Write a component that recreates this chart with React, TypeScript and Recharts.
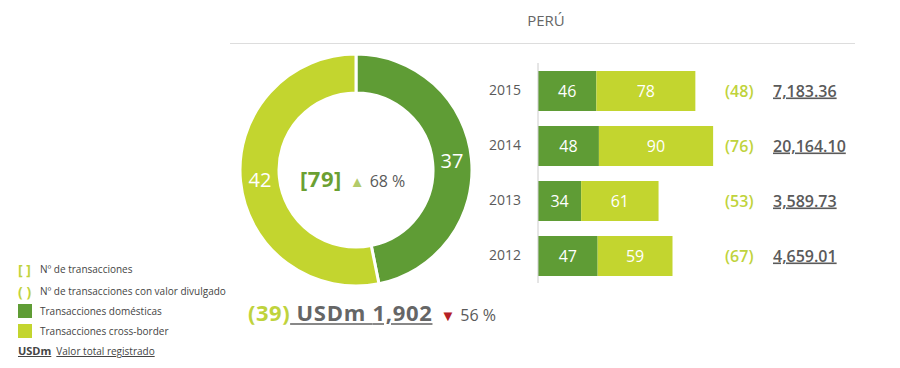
import * as React from "react"
import { PieChart, Pie, Cell, BarChart, Bar, XAxis, YAxis, LabelList } from "recharts"

const DARK = "#5f9c35"
const LIGHT = "#c3d52f"
const GREEN_TEXT = "#6ba032"
const LIGHT_TEXT = "#bfd33c"
const GRAY = "#5a5a5a"
const FONT = "'Open Sans', sans-serif"

// donut: Perú 2015
const donutNames = ["Transacciones domésticas", "Transacciones cross-border"]
const donutValues = [37, 42]
const totalDeals = 79
const dealsChange = 68
const disclosedDeals = 39
const totalValue = "1,902"
const valueChange = 56

// bars by year
const years = ["2015", "2014", "2013", "2012"]
const domestic = [46, 48, 34, 47]
const crossBorder = [78, 90, 61, 59]
const disclosed = [48, 76, 53, 67]
const yearValues = ["7,183.36", "20,164.10", "3,589.73", "4,659.01"]

const pieData = donutNames.map((name, i) => ({ name, value: donutValues[i] }))
const barData = years.map((year, i) => ({ year, domestic: domestic[i], crossBorder: crossBorder[i] }))

const RADIAN = Math.PI / 180

const PieLabel = (props: any) => {
  const { cx, cy, midAngle, innerRadius, outerRadius, value } = props
  const r = (innerRadius + outerRadius) / 2
  const x = cx + r * Math.cos(-midAngle * RADIAN)
  const y = cy + r * Math.sin(-midAngle * RADIAN)
  return (
    <text x={x} y={y} fill="#fff" fontSize={20} fontFamily={FONT} textAnchor="middle" dominantBaseline="central">
      {value}
    </text>
  )
}

const RightTick = (props: any) => {
  const { x, y, payload } = props
  const i = payload.index
  return (
    <g>
      <text x={x - 5} y={y} dy={6} fill={LIGHT_TEXT} fontSize={16} fontWeight={600} fontFamily={FONT}>
        ({disclosed[i]})
      </text>
      <text
        x={x + 43}
        y={y}
        dy={6}
        fill={GRAY}
        fontSize={16}
        fontWeight={600}
        fontFamily={FONT}
        style={{ textDecoration: "underline" }}
      >
        {yearValues[i]}
      </text>
    </g>
  )
}

const legendRow = (marker: React.ReactNode, label: string, top: number) => (
  <div style={{ position: "absolute", left: 18, top, display: "flex", alignItems: "center", height: 16 }}>
    <div style={{ width: 22 }}>{marker}</div>
    <span style={{ fontSize: 10, color: "#444" }}>{label}</span>
  </div>
)

export default function App() {
  return (
    <div style={{ position: "relative", width: 900, height: 368, fontFamily: FONT, background: "#fff", overflow: "hidden", margin: -8 }}>
      <div style={{ position: "absolute", left: 0, width: 1092, top: 10, textAlign: "center", fontSize: 15, color: "#666" }}>PERÚ</div>
      <div style={{ position: "absolute", left: 230, width: 625, top: 43, height: 1, background: "#ddd" }} />

      <div style={{ position: "absolute", left: 236, top: 50 }}>
        <PieChart width={240} height={240} margin={{ top: 0, right: 0, bottom: 0, left: 0 }}>
          <Pie
            data={pieData}
            dataKey="value"
            nameKey="name"
            cx={120}
            cy={120}
            innerRadius={77}
            outerRadius={116}
            startAngle={90}
            endAngle={-270}
            stroke="#fff"
            strokeWidth={3}
            labelLine={false}
            label={PieLabel}
            isAnimationActive={false}
          >
            <Cell fill={DARK} />
            <Cell fill={LIGHT} />
          </Pie>
        </PieChart>
      </div>

      <div style={{ position: "absolute", left: 300, top: 163, display: "flex", alignItems: "baseline", whiteSpace: "nowrap" }}>
        <span style={{ fontSize: 22, fontWeight: 700, color: GREEN_TEXT, letterSpacing: 0.5 }}>[{totalDeals}]</span>
        <span style={{ fontSize: 15, color: "#b3cb6a", marginLeft: 8 }}>▲</span>
        <span style={{ fontSize: 16, color: GRAY, marginLeft: 5 }}>{dealsChange} %</span>
      </div>

      <div style={{ position: "absolute", left: 248, top: 297, display: "flex", alignItems: "baseline", whiteSpace: "nowrap" }}>
        <span style={{ fontSize: 22, fontWeight: 700, color: LIGHT_TEXT, letterSpacing: 0.5 }}>({disclosedDeals})</span>
        <span style={{ fontSize: 22, fontWeight: 700, color: "#666", letterSpacing: 0.7, textDecoration: "underline", textDecorationColor: "#888" }}>
          &nbsp;USDm {totalValue}
        </span>
        <span style={{ fontSize: 15, color: "#b52025", marginLeft: 8 }}>▼</span>
        <span style={{ fontSize: 16, color: GRAY, marginLeft: 5 }}>{valueChange} %</span>
      </div>

      <div style={{ position: "absolute", left: 0, top: 0 }}>
        <BarChart
          width={900}
          height={368}
          data={barData}
          layout="vertical"
          margin={{ top: 63, bottom: 85, left: 478, right: 38 }}
        >
          <XAxis type="number" domain={[0, 145]} hide />
          <YAxis
            type="category"
            dataKey="year"
            width={60}
            tickLine={false}
            axisLine={{ stroke: "#ccc" }}
            tick={{ fill: GRAY, fontSize: 14, fontFamily: FONT }}
            tickMargin={11}
          />
          <YAxis
            yAxisId="right"
            type="category"
            dataKey="year"
            orientation="right"
            width={140}
            tickLine={false}
            axisLine={false}
            tick={RightTick}
          />
          <Bar dataKey="domestic" stackId="a" fill={DARK} barSize={40} isAnimationActive={false}>
            <LabelList dataKey="domestic" position="center" fill="#fff" fontSize={16} fontFamily={FONT} />
          </Bar>
          <Bar dataKey="crossBorder" stackId="a" fill={LIGHT} barSize={40} isAnimationActive={false}>
            <LabelList dataKey="crossBorder" position="center" fill="#fff" fontSize={16} fontFamily={FONT} />
          </Bar>
        </BarChart>
      </div>

      {legendRow(<span style={{ color: LIGHT_TEXT, fontWeight: 700, fontSize: 14 }}>[ ]</span>, "Nº de transacciones", 261)}
      {legendRow(<span style={{ color: LIGHT_TEXT, fontWeight: 700, fontSize: 14 }}>( )</span>, "Nº de transacciones con valor divulgado", 283)}
      {legendRow(<div style={{ width: 14, height: 14, background: DARK }} />, donutNames[0], 303)}
      {legendRow(<div style={{ width: 14, height: 14, background: LIGHT }} />, donutNames[1], 323)}
      <div style={{ position: "absolute", left: 18, top: 343, fontSize: 11, color: "#444", whiteSpace: "nowrap" }}>
        <span style={{ fontWeight: 700, textDecoration: "underline" }}>USDm</span>
        <span style={{ marginLeft: 5, fontSize: 10, textDecoration: "underline" }}>Valor total registrado</span>
      </div>
    </div>
  )
}
